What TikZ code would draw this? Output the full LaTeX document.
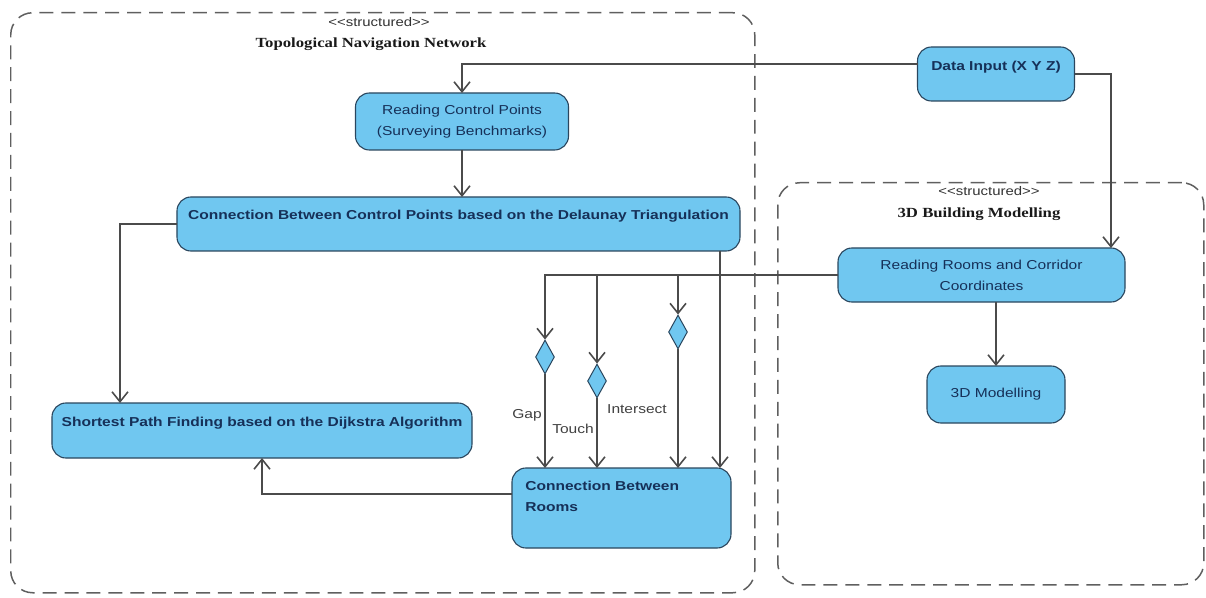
\documentclass[tikz,border=0pt]{standalone}
\usepackage{fontspec}
\setmainfont[FakeStretch=1.2]{Liberation Serif}
\setsansfont[FakeStretch=1.2]{Liberation Sans}
\usetikzlibrary{positioning}
\usetikzlibrary{arrows.meta,shapes.geometric}
\definecolor{actfill}{RGB}{112,199,240}
\definecolor{actdraw}{RGB}{42,70,94}
\definecolor{acttext}{RGB}{22,48,88}
\definecolor{flowline}{RGB}{75,75,75}
\definecolor{frameline}{RGB}{95,95,95}
\tikzset{every picture/.style={/utils/exec={\sffamily}}}

\begin{document}
\begin{tikzpicture}[x=1bp, y=-1bp,
  act/.style={draw=actdraw, fill=actfill, line width=1.1pt, rounded corners=14pt,
    align=center, text=acttext, inner sep=0pt, outer sep=0pt, font=\fontsize{13}{21}\selectfont},
  bact/.style={act, font=\fontsize{13}{21}\selectfont\bfseries},
  lift/.style={text height=9pt, text depth=#1},
  branch/.style={diamond, draw=actdraw, fill=actfill, line width=1pt, inner sep=0pt,
    minimum width=19pt, minimum height=34pt},
  frame/.style={draw=frameline, dash pattern=on 14pt off 8pt, line width=1.5pt,
    rounded corners=22pt, anchor=north west, inner sep=0pt},
  stereo/.style={text=black!80, font=\fontsize{12.5}{14}\selectfont},
  title/.style={text=black!90, font=\rmfamily\fontsize{14}{16}\selectfont\bfseries},
  flow/.style={draw=flowline, line width=1.6bp, -{Straight Barb[length=10pt,width=16pt]}},
  guard/.style={text=black!75, font=\fontsize{13}{15}\selectfont}]
  \useasboundingbox (0,0) rectangle (1206,598);

  \node[frame, minimum width=744bp, minimum height=580bp] (tnn) at (10,12) {};
  \node[frame, minimum width=426bp, minimum height=402bp] (bm) at (777,182) {};
  \node[stereo] (tnnst) at (379,22) {<\kern0pt<structured>\kern0pt>};
  \node[title] (tnnname) at (371,44) {Topological Navigation Network};
  \node[stereo] (bmst) at (989,191) {<\kern0pt<structured>\kern0pt>};
  \node[title] (bmname) at (979,214) {3D Building Modelling};

  \begin{scope}[every node/.style={act}]
    \node[bact, lift=17pt, minimum width=157bp, minimum height=54bp] (data) at (996,74) {Data Input (X Y Z)};
    \node[minimum width=213bp, minimum height=57bp] (rcp) at (462,121.5) {Reading Control Points\\(Surveying Benchmarks)};
    \node[bact, lift=18pt, minimum width=563bp, minimum height=54bp] (ccp) at (458.5,224) {Connection Between Control Points based on the Delaunay Triangulation};
    \node[bact, lift=17pt, minimum width=420bp, minimum height=55bp] (spf) at (262,430.5) {Shortest Path Finding based on the Dijkstra Algorithm};
    \node[bact, lift=44pt, align=left, text width=193pt, minimum width=219bp, minimum height=80bp] (cbr) at (621.5,508) {Connection Between\\Rooms};
    \node[minimum width=287bp, minimum height=54bp] (rrc) at (981.5,275) {Reading Rooms and Corridor\\Coordinates};
    \node[minimum width=138bp, minimum height=57bp] (model) at (996,394.5) {3D Modelling};
  \end{scope}

  \node[branch] (gap) at (545,357) {};
  \node[branch] (touch) at (597,381) {};
  \node[branch] (isect) at (678,332) {};

  \node[guard] (gaplbl) at (527,415) {Gap};
  \node[guard] (touchlbl) at (573,429) {Touch};
  \node[guard] (isectlbl) at (637,409) {Intersect};

  \coordinate (ccpin) at ([xshift=-11bp]cbr.north east);

  \draw[flow] ([yshift=10bp]data.west) -| (rcp.north);
  \draw[flow] (data.east) -| ([xshift=-14bp]rrc.north east);
  \draw[flow] (rcp.south) -- (rcp.south |- ccp.north);
  \draw[flow] (ccp.west) -| ([xshift=68bp]spf.north west);
  \draw[flow] (ccpin |- ccp.south) -- (ccpin);
  \draw[flow] (rrc.west) -| (gap.north);
  \draw[flow] (rrc.west -| touch.north) -- (touch.north);
  \draw[flow] (rrc.west -| isect.north) -- (isect.north);
  \draw[flow] (gap.south) -- (gap.south |- cbr.north);
  \draw[flow] (touch.south) -- (touch.south |- cbr.north);
  \draw[flow] (isect.south) -- (isect.south |- cbr.north);
  \draw[flow] ([yshift=14bp]cbr.west) -| (spf.south);
  \draw[flow] (model.north |- rrc.south) -- (model.north);
\end{tikzpicture}
\end{document}
